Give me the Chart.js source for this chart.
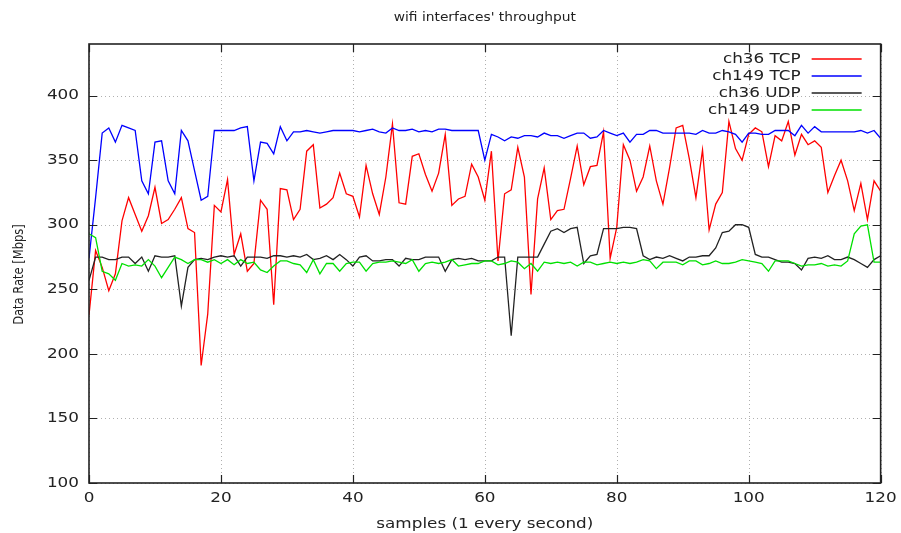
<!DOCTYPE html>
<html>
<head>
<meta charset="utf-8">
<script src="https://cdn.jsdelivr.net/npm/chart.js@4.4.1/dist/chart.umd.min.js"></script>
<style>
  html, body { margin: 0; padding: 0; background: #fff; }
  #wrap { width: 901px; height: 533px; }
</style>
</head>
<body>
<div id="wrap"><canvas id="chart" width="901" height="533"></canvas></div>
<script>
// throughput samples, one per second (x = 0..120)
const ch36Tcp = [230, 280, 267, 249, 262, 303, 321, 308, 295, 307, 329, 301, 304, 312, 321, 297, 294, 191, 231, 315, 310,
  335, 277, 293, 264, 270, 319, 312, 238, 328, 327, 304, 312, 357, 362, 313, 316, 321, 340, 324, 322,
  306, 346, 324, 308, 337, 378, 317, 316, 353, 355, 339, 326, 340, 370, 315, 320, 322, 347, 337, 319,
  357, 272, 324, 327, 360, 337, 246, 320, 344, 304, 311, 312, 336, 361, 331, 345, 346, 372, 274, 298,
  362, 350, 326, 337, 361, 334, 316, 344, 375, 377, 351, 321, 358, 296, 316, 325, 380, 359, 350, 370,
  375, 372, 345, 369, 365, 380, 354, 370, 362, 365, 360, 325, 338, 350, 334, 311, 332, 304, 334, 326];
const ch149Tcp = [274, 321, 371, 375, 364, 377, 375, 373, 334, 324, 364, 365, 334, 324, 373, 365, 342, 319, 322, 373, 373,
  373, 373, 375, 376, 334, 364, 363, 355, 376, 365, 372, 372, 373, 372, 371, 372, 373, 373, 373, 373,
  372, 373, 374, 372, 371, 375, 373, 373, 374, 372, 373, 372, 374, 374, 373, 373, 373, 373, 373, 350,
  370, 368, 365, 368, 367, 369, 369, 368, 371, 369, 369, 367, 369, 371, 371, 367, 368, 373, 371, 369,
  371, 364, 370, 370, 373, 373, 371, 371, 371, 371, 371, 370, 373, 371, 371, 373, 372, 370, 364, 371,
  371, 370, 370, 373, 373, 373, 369, 377, 371, 376, 372, 372, 372, 372, 372, 372, 373, 371, 373, 367];
const ch36Udp = [257, 275, 275, 273, 273, 275, 275, 270, 275, 264, 276, 275, 275, 276, 237, 267, 273, 274, 273, 275, 276,
  275, 276, 268, 275, 275, 275, 274, 276, 276, 275, 276, 275, 277, 273, 274, 276, 273, 277, 273, 268,
  275, 276, 272, 272, 273, 273, 268, 274, 273, 273, 275, 275, 275, 264, 273, 274, 273, 274, 272, 272,
  272, 275, 275, 214, 275, 275, 275, 275, 285, 295, 297, 294, 297, 298, 270, 276, 277, 297, 297, 297,
  298, 298, 297, 276, 273, 275, 274, 276, 274, 272, 275, 275, 276, 276, 282, 294, 295, 300, 300, 298,
  277, 275, 275, 273, 271, 271, 270, 265, 274, 275, 274, 276, 273, 273, 275, 273, 270, 267, 273, 276];
const ch149Udp = [293, 290, 264, 262, 257, 270, 268, 269, 268, 273, 268, 259, 267, 275, 273, 270, 273, 273, 271, 273, 270,
  273, 269, 273, 270, 271, 265, 263, 268, 272, 272, 270, 269, 263, 273, 262, 270, 270, 264, 270, 271,
  271, 264, 270, 271, 271, 272, 271, 270, 273, 264, 270, 271, 270, 271, 273, 268, 269, 270, 270, 272,
  272, 269, 270, 272, 271, 266, 270, 264, 271, 270, 271, 270, 271, 268, 271, 271, 269, 270, 271, 270,
  271, 270, 271, 273, 272, 266, 271, 271, 271, 269, 272, 272, 269, 270, 272, 270, 270, 271, 273, 272,
  271, 270, 264, 272, 272, 272, 270, 268, 269, 269, 270, 268, 269, 268, 272, 293, 299, 300, 271, 271];

const seriesNames = ["ch36 TCP", "ch149 TCP", "ch36 UDP", "ch149 UDP"];
const seriesColors = ["#ff0000", "#0000ff", "#222222", "#00e000"];
const xTicks = [0, 20, 40, 60, 80, 100, 120];
const yTicks = [100, 150, 200, 250, 300, 350, 400];
const yTitle = "Data Rate [Mbps]";

const FONT = "DejaVu Sans";
const TEXT_STRETCH = 1.2;  // the reference image has wide, flat lettering

function toPoints(values) {
    return values.map((v, i) => ({ x: i, y: v }));
}

const allSeries = [ch36Tcp, ch149Tcp, ch36Udp, ch149Udp];
const datasets = allSeries.map((values, k) => ({
    label: seriesNames[k],
    data: toPoints(values),
    borderColor: seriesColors[k],
    borderWidth: 1.3,
    pointRadius: 0,
    tension: 0,
    fill: false,
    order: 3 - k   // later series drawn on top, like gnuplot
}));

// widen text horizontally (on screen) around its anchor point
const stretchPlugin = {
    id: "stretch",
    beforeDraw(chart) {
        const c = chart.ctx;
        if (c._stretched) return;
        const orig = c.fillText.bind(c);
        c.fillText = function (text, x, y) {
            const t = c.getTransform();
            const rotated = Math.abs(t.b) > 0.5;
            c.save();
            c.translate(x, y);
            if (rotated) c.scale(1, TEXT_STRETCH);
            else c.scale(TEXT_STRETCH, 1);
            orig(text, 0, 0);
            c.restore();
        };
        c._stretched = true;
    }
};

// dotted grid under the data
const gridPlugin = {
    id: "dottedGrid",
    beforeDatasetsDraw(chart) {
        const { ctx, chartArea: a, scales } = chart;
        ctx.save();
        ctx.strokeStyle = "#b0b0b0";
        ctx.lineWidth = 1;
        ctx.setLineDash([1, 3]);
        ctx.beginPath();
        yTicks.forEach(v => {
            const py = Math.round(scales.y.getPixelForValue(v)) + 0.5;
            ctx.moveTo(a.left, py); ctx.lineTo(a.right, py);
        });
        xTicks.forEach(v => {
            const px = Math.round(scales.x.getPixelForValue(v)) + 0.5;
            ctx.moveTo(px, a.top); ctx.lineTo(px, a.bottom);
        });
        ctx.stroke();
        ctx.restore();
    }
};

// frame, inward tick marks, y title and the gnuplot-style legend
const framePlugin = {
    id: "frame",
    afterDatasetsDraw(chart) {
        const { ctx, chartArea: a, scales } = chart;
        const x = scales.x, y = scales.y;
        ctx.save();
        ctx.strokeStyle = "#222";
        ctx.lineWidth = 1.2;
        ctx.beginPath();
        yTicks.forEach(v => {
            const py = Math.round(y.getPixelForValue(v)) + 0.5;
            ctx.moveTo(a.left, py); ctx.lineTo(a.left + 8, py);
            ctx.moveTo(a.right, py); ctx.lineTo(a.right - 8, py);
        });
        xTicks.forEach(v => {
            const px = Math.round(x.getPixelForValue(v)) + 0.5;
            ctx.moveTo(px, a.bottom); ctx.lineTo(px, a.bottom - 8);
            ctx.moveTo(px, a.top); ctx.lineTo(px, a.top + 8);
        });
        ctx.stroke();
        ctx.lineWidth = 1.6;
        ctx.strokeRect(a.left, a.top, a.right - a.left, a.bottom - a.top);

        // y axis title
        ctx.fillStyle = "#222";
        ctx.font = "11.5px '" + FONT + "'";
        ctx.textAlign = "center";
        ctx.textBaseline = "middle";
        ctx.save();
        ctx.translate(19, a.top + (a.bottom - a.top) / 2 + 11);
        ctx.rotate(-Math.PI / 2);
        ctx.fillText(yTitle, 0, 0);
        ctx.restore();

        // legend
        ctx.font = "14px '" + FONT + "'";
        ctx.textAlign = "right";
        chart.data.datasets.forEach((ds, i) => {
            const ly = a.top + 15 + i * 17;
            ctx.fillStyle = "#222";
            ctx.fillText(ds.label, a.right - 80, ly);
            ctx.strokeStyle = ds.borderColor;
            ctx.lineWidth = 1.3;
            ctx.beginPath();
            ctx.moveTo(a.right - 69, ly);
            ctx.lineTo(a.right - 19, ly);
            ctx.stroke();
        });
        ctx.restore();
    }
};

const ctx = document.getElementById("chart").getContext("2d");
const chart = new Chart(ctx, {
    type: "line",
    data: { datasets: datasets },
    options: {
        responsive: false,
        animation: false,
        events: [],
        layout: { padding: { left: 0, right: 19, top: 0, bottom: 0 } },
        plugins: {
            legend: { display: false },
            tooltip: { enabled: false },
            title: {
                display: true,
                fullSize: false,
                text: "wifi interfaces' throughput",
                color: "#222",
                font: { family: FONT, size: 11.5, weight: "normal" },
                padding: { top: 11, bottom: 19.2 }
            }
        },
        scales: {
            x: {
                type: "linear",
                min: 0,
                max: 120,
                afterFit(scale) { scale.height = 50; },
                afterBuildTicks(scale) { scale.ticks = xTicks.map(v => ({ value: v })); },
                grid: { display: false, drawTicks: false },
                border: { display: false },
                ticks: { color: "#222", padding: 7, font: { family: FONT, size: 14 } },
                title: {
                    display: true,
                    text: "samples (1 every second)",
                    color: "#222",
                    font: { family: FONT, size: 14 },
                    padding: { top: 0, bottom: 0 }
                }
            },
            y: {
                min: 100,
                max: 440,
                afterFit(scale) { scale.width = 89; },
                afterBuildTicks(scale) { scale.ticks = yTicks.map(v => ({ value: v })); },
                grid: { display: false, drawTicks: false },
                border: { display: false },
                ticks: { color: "#222", padding: 10, font: { family: FONT, size: 14 } }
            }
        }
    },
    plugins: [stretchPlugin, gridPlugin, framePlugin]
});
</script>
</body>
</html>
